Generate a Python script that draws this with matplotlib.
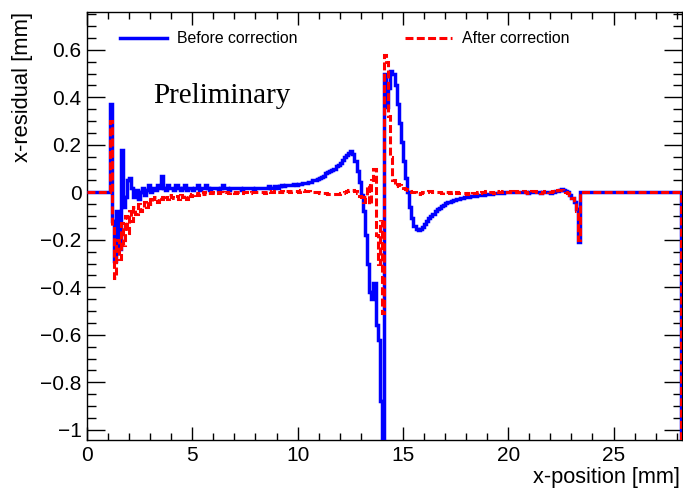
import numpy as np
import matplotlib
matplotlib.use("Agg")
import matplotlib.pyplot as plt
from matplotlib.ticker import MultipleLocator, FuncFormatter

# ---------------- data ----------------
first_edge = 1.1          # first non-empty bin (mm)
bin_width = 0.1           # mm
x_max = 28.25

before_correction = [
    0.37, -0.12, -0.29, -0.08, -0.24, 0.18, -0.06, -0.02, 0.05, 0.06,
    0.02, -0.02, 0.01, -0.03, 0.00, 0.02, -0.01, 0.01, 0.03, 0.00,
    0.02, 0.01, 0.03, 0.02, 0.07, 0.02, 0.01, 0.03, 0.02, 0.02,
    0.01, 0.03, 0.02, 0.01, 0.02, 0.03, 0.01, 0.02, 0.02, 0.01,
    0.02, 0.03, 0.01, 0.02, 0.02, 0.03, 0.02, 0.01, 0.02, 0.02,
    0.02, 0.01, 0.02, 0.03, 0.02, 0.02, 0.01, 0.02, 0.02, 0.02,
    0.02, 0.02, 0.01, 0.02, 0.02, 0.02, 0.02, 0.02, 0.01, 0.02,
    0.02, 0.02, 0.02, 0.02, 0.02, 0.025, 0.02, 0.02, 0.025, 0.02,
    0.025, 0.03, 0.025, 0.03, 0.03, 0.03, 0.03, 0.035, 0.03, 0.035,
    0.035, 0.04, 0.04, 0.04, 0.045, 0.045, 0.05, 0.05, 0.055, 0.06,
    0.065, 0.07, 0.08, 0.085, 0.09, 0.095, 0.10, 0.11, 0.115, 0.125,
    0.135, 0.147, 0.158, 0.167, 0.172, 0.16, 0.13, 0.09, 0.045, -0.01,
    -0.08, -0.18, -0.30, -0.42, -0.45, -0.38, -0.56, -0.62, -0.88, -1.2,
    0.50, 0.36, 0.44, 0.51, 0.50, 0.45, 0.37, 0.29, 0.21, 0.13,
    0.06, 0.00, -0.06, -0.11, -0.14, -0.155, -0.16, -0.155, -0.145, -0.135,
    -0.12, -0.11, -0.10, -0.09, -0.08, -0.072, -0.065, -0.058, -0.052, -0.047,
    -0.043, -0.04, -0.036, -0.033, -0.03, -0.028, -0.026, -0.024, -0.021, -0.019,
    -0.018, -0.016, -0.015, -0.014, -0.013, -0.011, -0.010, -0.010, -0.009, -0.008,
    -0.007, -0.006, -0.005, -0.004, -0.003, -0.002, -0.002, 0.000, 0.001, 0.002,
    0.002, 0.003, 0.003, 0.002, 0.003, 0.002, 0.000, 0.001, -0.002, 0.000,
    0.002, 0.003, 0.001, 0.000, -0.002, 0.000, 0.003, 0.002, 0.000, -0.001,
    0.002, 0.004, 0.006, 0.010, 0.012, 0.010, 0.006, 0.000, -0.01, -0.025,
    -0.04, -0.07, -0.21,
]

after_correction = [
    0.30, -0.14, -0.36, -0.20, -0.28, -0.13, -0.22, -0.10, -0.17, -0.08,
    -0.12, -0.06, -0.09, -0.05, -0.08, -0.06, -0.04, -0.06, -0.03, -0.05,
    -0.03, -0.02, -0.04, -0.02, -0.03, -0.01, -0.02, -0.03, -0.01, -0.02,
    -0.025, -0.015, -0.03, -0.01, -0.02, -0.012, -0.03, -0.008, -0.015, -0.01,
    -0.005, -0.012, -0.003, -0.008, 0.000, -0.006, -0.002, -0.004, 0.002, -0.003,
    0.000, -0.004, 0.002, -0.002, 0.000, 0.003, -0.003, 0.001, 0.000, -0.002,
    0.002, 0.000, -0.003, 0.001, 0.003, 0.000, -0.002, 0.002, 0.000, 0.001,
    0.000, 0.003, 0.001, -0.002, 0.002, 0.004, 0.000, 0.002, 0.005, 0.001,
    0.003, 0.005, 0.002, 0.004, 0.006, 0.003, 0.005, 0.004, 0.006, 0.003,
    0.008, 0.010, 0.006, 0.005, 0.004, 0.003, 0.002, 0.001, 0.000, -0.002,
    -0.003, -0.004, -0.005, -0.006, -0.008, -0.009, -0.008, -0.007, -0.006, -0.004,
    -0.002, 0.002, 0.006, 0.009, 0.010, 0.008, 0.004, -0.005, -0.015, -0.022,
    -0.04, -0.02, 0.03, -0.05, 0.05, 0.10, -0.18, -0.30, -0.12, -0.51,
    0.58, 0.55, 0.32, 0.15, 0.05, 0.025, 0.035, 0.03, 0.025, 0.02,
    0.015, 0.01, 0.005, 0.003, 0.000, -0.004, -0.006, -0.003, 0.000, 0.002,
    0.003, 0.005, 0.004, 0.002, 0.003, 0.000, 0.002, -0.002, 0.001, 0.000,
    0.002, -0.003, 0.000, -0.002, 0.001, -0.004, -0.002, -0.005, -0.003, -0.006,
    -0.004, -0.008, -0.005, -0.003, 0.002, -0.004, 0.003, 0.000, 0.004, 0.002,
    0.000, 0.003, -0.002, 0.004, 0.000, 0.002, 0.005, 0.002, 0.000, 0.003,
    0.004, 0.001, 0.005, 0.003, 0.000, 0.002, 0.006, 0.002, -0.001, 0.003,
    0.004, 0.007, 0.003, 0.000, -0.003, 0.002, 0.006, 0.004, 0.001, 0.002,
    0.005, 0.003, 0.008, 0.011, 0.009, 0.006, 0.003, -0.002, -0.012, -0.025,
    -0.045, -0.08, -0.20,
]

# empty bins before/after the active region and the last (overflow-like) bin
tail_edges = [28.2, 28.3]
tail_value = -1.5

y_ticks = [-1.0, -0.8, -0.6, -0.4, -0.2, 0.0, 0.2, 0.4, 0.6]
x_ticks = [0, 5, 10, 15, 20, 25]
series_labels = ["Before correction", "After correction"]

# ---------------- build histogram edges ----------------
n_active = len(before_correction)
assert n_active == len(after_correction)
active_edges = np.round(first_edge + bin_width * np.arange(n_active + 1), 3)
edges = np.concatenate([[0.0], active_edges, tail_edges])
vals_before = np.concatenate([[0.0], before_correction, [0.0, tail_value]])
vals_after = np.concatenate([[0.0], after_correction, [0.0, tail_value]])

# ---------------- figure ----------------
plt.rcParams['font.family'] = ['Liberation Sans', 'DejaVu Sans']
fig = plt.figure(figsize=(6.83, 4.88), dpi=100)
ax = fig.add_axes([87 / 683, 48 / 488, 595 / 683, 428 / 488])

ax.stairs(vals_before, edges, color='#0000ff', lw=2.5, baseline=None,
          label=series_labels[0], zorder=3)
ax.stairs(vals_after, edges, color='#ff0000', lw=2.2, baseline=None,
          linestyle=(0, (2.6, 1.1)), label=series_labels[1], zorder=4)

ax.set_xlim(0, x_max)
ax.set_ylim(-1.043, 0.759)

ax.xaxis.set_major_locator(MultipleLocator(5))
ax.xaxis.set_minor_locator(MultipleLocator(1))
ax.yaxis.set_major_locator(MultipleLocator(0.2))
ax.yaxis.set_minor_locator(MultipleLocator(0.05))
ax.set_xticks(x_ticks)
ax.set_yticks(y_ticks)


def fmt(v, pos):
    s = f"{v:.1f}".rstrip('0').rstrip('.')
    if s in ("-0", ""):
        s = "0"
    return s.replace('-', '\u2212')


ax.yaxis.set_major_formatter(FuncFormatter(fmt))
ax.xaxis.set_major_formatter(FuncFormatter(fmt))

ax.tick_params(axis='x', which='major', direction='in', length=9.4, width=1.0,
               top=True, labelsize=15, pad=4)
ax.tick_params(axis='x', which='minor', direction='in', length=4.7, width=1.0,
               top=True)
ax.tick_params(axis='y', which='major', direction='in', length=13, width=1.0,
               right=True, labelsize=15, pad=4)
ax.tick_params(axis='y', which='minor', direction='in', length=6.5, width=1.0,
               right=True)
for sp in ax.spines.values():
    sp.set_linewidth(1.0)

ax.set_xlabel("x-position [mm]", fontsize=15.7, loc='right')
ax.xaxis.set_label_coords(0.997, -0.062)
ax.set_ylabel("x-residual [mm]", fontsize=15.8, loc='top')
ax.yaxis.set_label_coords(-0.091, 1.0)

ax.text(0.111, 0.787, "Preliminary", transform=ax.transAxes,
        fontsize=21, family=['Liberation Serif', 'DejaVu Serif'],
        va='baseline', ha='left')

leg = ax.legend(loc='center left', bbox_to_anchor=(0.055, 0.937), ncol=2,
                frameon=False, fontsize=11.4, handlelength=3.0,
                handletextpad=0.6, columnspacing=6.8, borderpad=0,
                borderaxespad=0)

fig.savefig("out.png", dpi=100)
